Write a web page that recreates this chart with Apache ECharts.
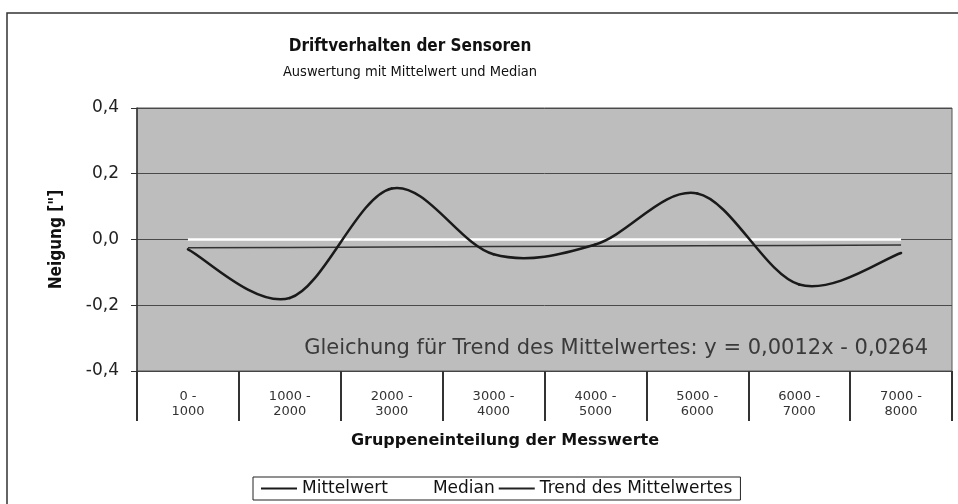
<!DOCTYPE html>
<html>
<head>
<meta charset="utf-8">
<script src="https://cdn.jsdelivr.net/npm/echarts@6/dist/echarts.min.js"></script>
<style>
  html, body { margin: 0; padding: 0; background: #ffffff; }
  #chart { width: 958px; height: 504px; }
</style>
</head>
<body>
<div id="chart"></div>
<script>
// Gruppen der Messwerte (Kategorien der x-Achse)
const categories = ['0 -\n1000', '1000 -\n2000', '2000 -\n3000', '3000 -\n4000',
                    '4000 -\n5000', '5000 -\n6000', '6000 -\n7000', '7000 -\n8000'];
// Mittelwert je Gruppe
const meanValues = [-0.03, -0.178, 0.155, -0.045, -0.015, 0.14, -0.137, -0.041];
// Median je Gruppe
const medianValues = [0, 0, 0, 0, 0, 0, 0, 0];
// Trendlinie des Mittelwertes, y = 0,0012x - 0,0264 an den Gruppen 1..8
const trendValues = [-0.0252, -0.024, -0.0228, -0.0216, -0.0204, -0.0192, -0.018, -0.0168];
// Beschriftungen der y-Achse
const yTicks = [-0.4, -0.2, 0.0, 0.2, 0.4];

const chart = echarts.init(document.getElementById('chart'), null, { renderer: 'canvas' });

const fmt = v => v.toFixed(1).replace('.', ',');
const lineIcon = 'path://M0,0 L40,0 L40,2 L0,2 Z';

// Geglättete Linie: kubische Bézier-Segmente (Catmull-Rom) zwischen den Gruppenmittelwerten
function renderSmoothSegment(params, api) {
  const i = params.dataIndex;
  const n = meanValues.length;
  if (i >= n - 1) return null;
  const pt = k => {
    const j = Math.max(0, Math.min(n - 1, k));
    return api.coord([j, meanValues[j]]);
  };
  const p0 = pt(i - 1), p1 = pt(i), p2 = pt(i + 1), p3 = pt(i + 2);
  return {
    type: 'bezierCurve',
    shape: {
      x1: p1[0], y1: p1[1], x2: p2[0], y2: p2[1],
      cpx1: p1[0] + (p2[0] - p0[0]) / 6, cpy1: p1[1] + (p2[1] - p0[1]) / 6,
      cpx2: p2[0] - (p3[0] - p1[0]) / 6, cpy2: p2[1] - (p3[1] - p1[1]) / 6
    },
    style: { stroke: '#1a1a1a', lineWidth: 2.5, fill: 'none', lineCap: 'round' }
  };
}

chart.setOption({
  backgroundColor: '#ffffff',
  animation: false,
  grid: {
    left: 137, right: 6, top: 108, bottom: 133,
    show: true,
    backgroundColor: '#bdbdbd',
    borderColor: '#555',
    borderWidth: 1
  },
  xAxis: {
    type: 'category',
    data: categories,
    boundaryGap: true,
    axisLine: { show: true, onZero: false, lineStyle: { color: '#444', width: 1 } },
    axisTick: { show: true, interval: 0, length: 50, lineStyle: { color: '#333', width: 2 } },
    axisLabel: {
      interval: 0, margin: 18, lineHeight: 15,
      fontFamily: 'DejaVu Sans', fontSize: 13, color: '#333'
    },
    splitLine: { show: false }
  },
  yAxis: {
    type: 'value',
    min: yTicks[0], max: yTicks[yTicks.length - 1], interval: 0.2,
    name: 'Neigung ["]',
    nameLocation: 'middle',
    nameGap: 72,
    nameRotate: 90,
    nameTextStyle: { fontFamily: 'DejaVu Sans Condensed', fontWeight: 'bold', fontSize: 17, color: '#111' },
    axisLine: { show: true, lineStyle: { color: '#333', width: 1.5 } },
    axisTick: { show: true, length: 6, lineStyle: { color: '#333' } },
    axisLabel: {
      margin: 18, formatter: fmt,
      fontFamily: 'DejaVu Sans', fontSize: 17, color: '#222'
    },
    splitLine: { show: true, lineStyle: { color: '#4a4a4a', width: 1 } }
  },
  legend: {
    left: 253, top: 477,
    data: [
      { name: 'Mittelwert', icon: lineIcon, itemStyle: { color: '#1a1a1a' } },
      { name: 'Median', icon: lineIcon, itemStyle: { color: '#ffffff' } },
      { name: 'Trend des Mittelwertes', icon: lineIcon, itemStyle: { color: '#222' } }
    ],
    itemWidth: 36, itemHeight: 2, itemGap: 4,
    padding: [3, 8, 3, 8],
    borderColor: '#222', borderWidth: 1,
    textStyle: { fontFamily: 'DejaVu Sans', fontSize: 17, color: '#111' }
  },
  graphic: [
    { type: 'rect', silent: true, z: -1,
      shape: { x: 7, y: 13, width: 980, height: 520 },
      style: { fill: 'none', stroke: '#333', lineWidth: 1.5 } },
    { type: 'text', x: 410, y: 47, silent: true,
      style: { text: 'Driftverhalten der Sensoren', textAlign: 'center', textVerticalAlign: 'middle',
               font: 'bold 17px "DejaVu Sans Condensed"', fill: '#111' } },
    { type: 'text', x: 410, y: 72, silent: true,
      style: { text: 'Auswertung mit Mittelwert und Median', textAlign: 'center', textVerticalAlign: 'middle',
               font: '14.5px "DejaVu Sans Condensed"', fill: '#111' } },
    { type: 'text', x: 505, y: 441, silent: true,
      style: { text: 'Gruppeneinteilung der Messwerte', textAlign: 'center', textVerticalAlign: 'middle',
               font: 'bold 16px "DejaVu Sans"', fill: '#111' } },
    { type: 'text', x: 928, y: 349, silent: true, z: 10,
      style: { text: 'Gleichung für Trend des Mittelwertes: y = 0,0012x - 0,0264', textAlign: 'right',
               textVerticalAlign: 'middle', font: '21px "DejaVu Sans"', fill: '#3a3a3a' } }
  ],
  series: [
    { name: 'Median', type: 'line', data: medianValues, symbol: 'none', z: 2,
      lineStyle: { color: '#ffffff', width: 2.5 }, itemStyle: { color: '#ffffff' } },
    { name: 'Trend des Mittelwertes', type: 'line', data: trendValues, symbol: 'none', z: 3,
      lineStyle: { color: '#333333', width: 1.5 }, itemStyle: { color: '#333333' } },
    { name: 'Mittelwert', type: 'custom', z: 4,
      data: meanValues.map((v, i) => [i, v]),
      encode: { x: 0, y: 1 },
      renderItem: renderSmoothSegment,
      itemStyle: { color: '#1a1a1a' } }
  ]
});
</script>
</body>
</html>
